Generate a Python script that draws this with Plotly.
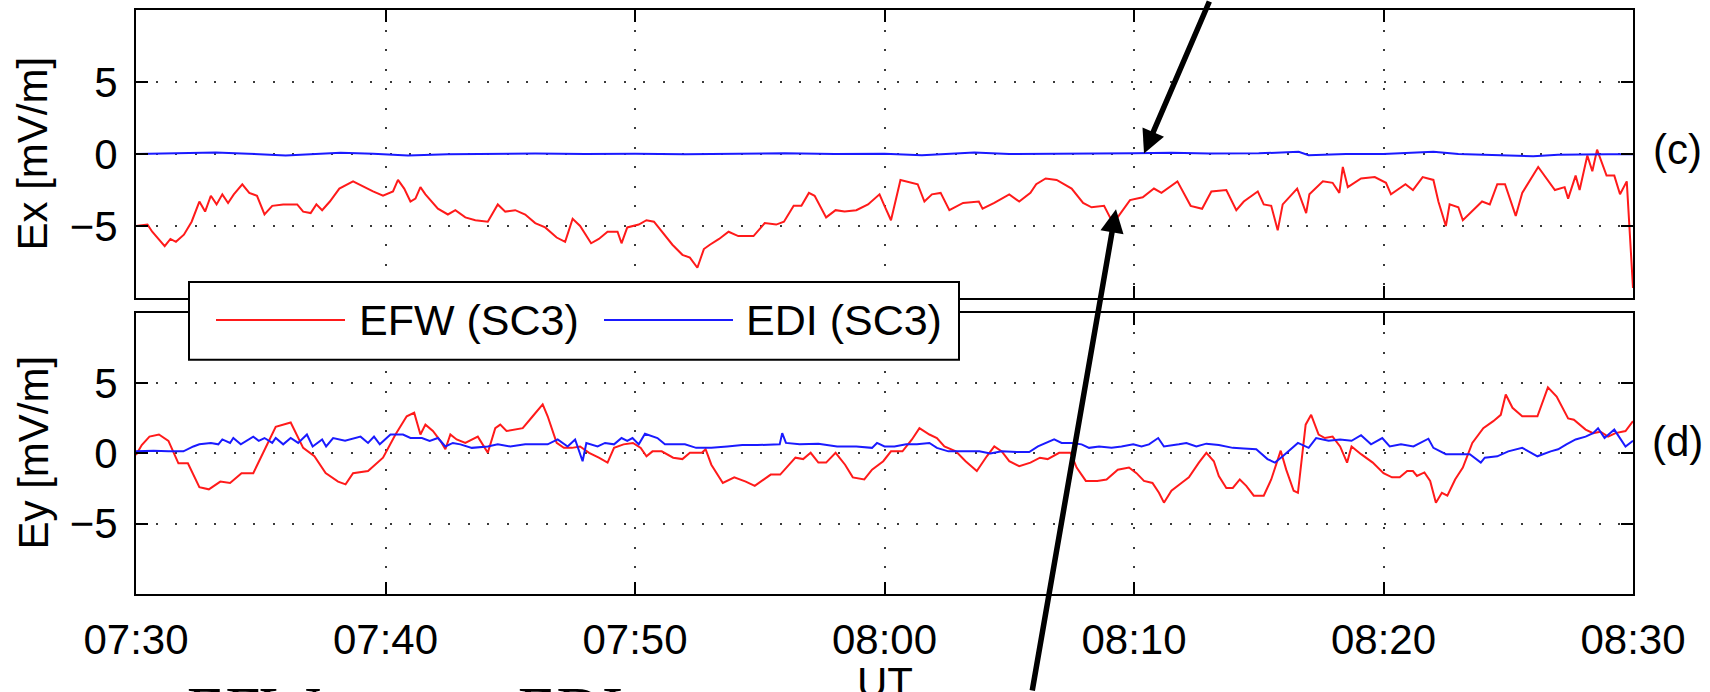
import plotly.graph_objects as go

# ---------------- data (minutes after 07:30 UT) ----------------
tick_vals = [0, 10, 20, 30, 40, 50, 60]
tick_text = ["07:30", "07:40", "07:50", "08:00", "08:10", "08:20", "08:30"]

# Panel (c): Ex, EFW (SC3)
t_ex_efw = [0, 0.46, 0.65, 0.85, 1.15, 1.38, 1.6, 1.92, 2.23, 2.54, 2.77, 3.0, 3.23, 3.46, 3.69, 3.92,
            4.26, 4.54, 4.85, 5.15, 5.46, 5.9, 6.46, 6.7, 7.0, 7.23, 7.46, 7.77, 8.15, 8.7, 9.15, 9.5,
            9.9, 10.3, 10.5, 10.75, 11.0, 11.2, 11.4, 11.6, 12.1, 12.5, 12.8, 13.2, 13.6, 14.1, 14.5,
            14.8, 15.2, 15.6, 16.0, 16.4, 16.86, 17.2, 17.5, 17.8, 18.24, 18.55, 18.9, 19.3, 19.46,
            19.69, 20.15, 20.46, 20.76, 21.07, 21.5, 21.9, 22.2, 22.5, 22.76, 23.0, 23.37, 23.75, 24.14,
            24.75, 25.2, 25.66, 25.97, 26.36, 26.67, 26.97, 27.2, 27.66, 28.04, 28.4, 28.87, 29.34,
            29.8, 30.0, 30.26, 30.64, 31.33, 31.6, 31.9, 32.25, 32.6, 33.15, 33.78, 33.93, 34.4, 35.0,
            35.4, 35.85, 36.08, 36.46, 36.9, 37.5, 37.96, 38.3, 38.8, 39.04, 39.3, 39.84, 40.35, 40.8,
            41.1, 41.74, 42.27, 42.73, 43.1, 43.7, 44.1, 44.4, 44.96, 45.2, 45.5, 45.76, 45.96, 46.54,
            46.9, 47.03, 47.57, 47.96, 48.23, 48.37, 48.57, 49.1, 49.65, 50.1, 50.3, 50.88, 51.18,
            51.57, 52.0, 52.2, 52.5, 52.65, 53.0, 53.18, 53.95, 54.26, 54.56, 54.87, 55.3, 55.56,
            56.2, 56.87, 57.26, 57.4, 57.7, 57.86, 58.17, 58.37, 58.56, 58.94, 59.25, 59.48, 59.75, 60.0]
ex_efw = [-5.0, -4.9, -5.4, -5.8, -6.4, -5.9, -6.1, -5.6, -4.7, -3.3, -4.0, -2.9, -3.5, -2.8, -3.4, -2.8,
          -2.1, -2.7, -2.9, -4.2, -3.6, -3.5, -3.5, -4.0, -4.1, -3.5, -3.9, -3.3, -2.4, -1.9, -2.3, -2.6,
          -2.9, -2.6, -1.8, -2.4, -3.3, -3.1, -2.3, -2.8, -3.8, -4.2, -3.9, -4.4, -4.6, -4.7, -3.5,
          -4.0, -3.9, -4.2, -4.8, -5.1, -5.8, -6.1, -4.5, -5.0, -6.2, -5.9, -5.4, -5.4, -6.2,
          -5.1, -4.9, -4.6, -4.7, -5.4, -6.3, -7.0, -7.2, -7.9, -6.6, -6.3, -5.9, -5.4, -5.7,
          -5.7, -4.8, -4.9, -4.7, -3.6, -3.6, -2.7, -2.9, -4.4, -3.9, -4.0, -3.9, -3.5,
          -2.8, -3.6, -4.6, -1.8, -2.1, -3.3, -2.8, -2.7, -3.9, -3.4, -3.3, -3.8, -3.4, -2.8,
          -3.3, -2.7, -2.1, -1.7, -1.8, -2.4, -3.4, -3.7, -3.6, -4.4, -4.5, -3.2, -3.0, -2.4,
          -2.7, -1.9, -3.6, -3.8, -2.6, -2.5, -3.9, -3.3, -2.6, -3.5, -3.6, -5.3, -3.5, -2.4,
          -4.1, -2.8, -1.9, -2.0, -2.7, -0.9, -2.3, -1.7, -1.6, -2.0, -2.8, -2.1, -2.5,
          -1.6, -1.8, -3.3, -5.0, -3.5, -3.7, -4.6, -3.3, -3.5, -2.1, -2.1, -4.3, -2.7,
          -0.9, -2.5, -2.3, -3.1, -1.5, -2.5, -0.1, -1.2, 0.3, -1.5, -1.5, -2.8, -1.9, -9.3]

# Panel (c): Ex, EDI (SC3)
t_ex_edi = [0, 1.5, 3.2, 4.5, 6.0, 7.2, 8.2, 9.5, 10.9, 12.5, 14.0, 16.0, 18.0, 20.0, 22.0, 24.0, 26.0,
            28.0, 30.0, 31.5, 33.6, 35.0, 36.0, 38.0, 40.0, 41.5, 43.0, 45.0, 46.6, 47.0, 48.5, 50.0,
            52.0, 53.0, 54.0, 55.0, 56.0, 57.0, 58.0, 59.0, 60.0]
ex_edi = [0.0, 0.05, 0.1, 0.02, -0.1, 0.0, 0.08, 0.02, -0.1, -0.02, 0.0, 0.03, 0.0, 0.02, -0.02, 0.03,
          0.05, 0.0, 0.02, -0.08, 0.1, 0.0, 0.0, 0.03, 0.05, 0.08, 0.03, 0.05, 0.15, -0.08, 0.0, 0.0,
          0.15, 0.0, -0.05, -0.05, -0.15, -0.05, -0.02, -0.02, -0.02]

# Panel (d): Ey, EFW (SC3)
t_ey_efw = [0, 0.23, 0.54, 0.92, 1.3, 1.7, 2.08, 2.54, 2.92, 3.15, 3.38, 3.77, 4.23, 4.7, 5.15, 5.6, 6.2,
            6.7, 7.15, 7.6, 8.1, 8.4, 8.7, 9.3, 9.9, 10.4, 10.85, 11.15, 11.4, 11.6, 11.9, 12.2, 12.4,
            12.6, 12.85, 13.2, 13.7, 14.1, 14.4, 14.6, 14.85, 15.5, 15.9, 16.3, 16.5, 16.86, 17.15,
            17.47, 17.8, 18.16, 18.55, 18.9, 19.16, 19.54, 19.92, 20.23, 20.46, 20.7, 21.07, 21.53,
            21.9, 22.2, 22.68, 22.83, 23.06, 23.52, 23.98, 24.44, 24.8, 25.05, 25.44, 25.82, 26.13,
            26.43, 26.74, 27.04, 27.35, 27.66, 28.04, 28.42, 28.73, 29.19, 29.5, 29.95, 30.26, 30.72,
            31.1, 31.4, 31.8, 32.1, 32.4, 32.86, 33.25, 33.7, 34.1, 34.4, 34.7, 35.0, 35.4, 35.85,
            36.23, 36.54, 37.0, 37.46, 37.7, 38.07, 38.53, 38.9, 39.35, 39.8, 40.1, 40.4, 40.74, 41.0,
            41.2, 41.5, 41.9, 42.2, 42.6, 42.9, 43.2, 43.4, 43.7, 43.96, 44.24, 44.5, 44.8, 45.2, 45.5,
            45.88, 46.1, 46.4, 46.57, 46.88, 47.1, 47.4, 47.65, 47.96, 48.26, 48.54, 48.72, 49.1,
            49.57, 50.0, 50.34, 50.65, 50.95, 51.18, 51.34, 51.64, 51.87, 52.1, 52.34, 52.56, 52.87,
            53.18, 53.56, 54.0, 54.4, 54.7, 54.9, 55.17, 55.56, 56.17, 56.59, 56.94, 57.4, 57.63,
            58.1, 58.4, 58.7, 59.0, 59.3, 59.7, 60.0]
ey_efw = [-0.1, 0.6, 1.2, 1.35, 0.9, -0.7, -0.7, -2.4, -2.55, -2.3, -2.0, -2.1, -1.4, -1.4, 0.3, 1.9, 2.2,
          0.4, -0.2, -1.4, -2.0, -2.2, -1.4, -1.25, -0.3, 1.35, 2.65, 2.9, 1.35, 2.05, 1.6, 0.9, 0.3,
          1.35, 1.0, 0.75, 1.2, 0.05, 1.8, 2.05, 1.6, 1.8, 2.65, 3.5, 2.65, 0.75, 0.4,
          0.4, 0.5, 0.05, -0.3, -0.65, 0.4, 0.65, 0.75, 0.4, -0.2, 0.15, 0.15, -0.3,
          -0.4, 0.05, 0.05, 0.3, -0.8, -2.1, -1.7, -2.0, -2.3, -2.0, -1.5, -1.5, -0.9,
          -0.3, -0.4, 0.05, -0.65, -0.65, 0.05, -0.8, -1.7, -1.85, -1.15, -0.55, 0.15, 0.15,
          1.0, 1.8, 1.35, 1.1, 0.5, 0.15, -0.55, -1.25, -0.2, 0.5, 0.15, -0.55, -0.9, -0.65,
          -0.3, -0.4, 0.05, 0.05, -1.0, -1.95, -1.95, -1.85, -1.15, -1.0, -1.4, -1.95, -2.1, -2.8,
          -3.5, -2.65, -2.1, -1.7, -0.65, 0.05, -0.55, -1.6, -2.45, -2.45, -1.85, -2.3, -3.0, -3.0, -1.85,
          0.2, -1.15, -2.65, -2.8, 2.05, 2.75, 1.35, 1.1, 1.2, 0.5, -0.65, 0.5, -0.05,
          -0.65, -1.4, -1.7, -1.7, -1.25, -1.25, -1.6, -1.35, -1.95, -3.5, -2.8, -3.0, -1.85,
          -1.0, 0.75, 1.8, 2.3, 2.75, 4.2, 3.25, 2.65, 2.65, 4.7, 4.05, 2.5, 2.4,
          1.7, 1.45, 1.55, 1.2, 1.45, 1.6, 2.3]

# Panel (d): Ey, EDI (SC3)
t_ey_edi = [0, 0.7, 1.3, 1.9, 2.3, 2.54, 3.0, 3.3, 3.46, 3.77, 3.9, 4.2, 4.7, 4.92, 5.15, 5.46, 5.6, 5.9,
            6.2, 6.5, 6.85, 7.08, 7.46, 7.62, 7.9, 8.38, 9.0, 9.3, 9.54, 9.77, 10.2, 10.7, 11.0, 11.46,
            11.77, 12.1, 12.4, 12.7, 13.0, 13.46, 14.1, 14.5, 15.0, 15.6, 16.0, 16.5, 16.9, 17.3, 17.6,
            17.9, 18.05, 18.5, 18.8, 19.16, 19.46, 19.69, 19.9, 20.15, 20.4, 20.7, 20.9, 21.2, 21.5,
            22.0, 22.45, 23.06, 23.7, 24.3, 24.9, 25.5, 25.8, 25.9, 26.05, 26.6, 27.35, 28.1, 28.87,
            29.5, 29.7, 30.0, 30.4, 30.87, 31.3, 31.8, 32.1, 32.56, 33.2, 33.8, 34.24, 34.7, 35.3,
            35.8, 36.15, 36.5, 36.8, 37.1, 37.5, 37.9, 38.2, 38.6, 39.1, 39.5, 39.97, 40.3, 40.6,
            40.97, 41.2, 41.8, 42.1, 42.5, 42.9, 43.4, 43.96, 44.4, 44.9, 45.35, 45.65, 45.96, 46.57,
            47.0, 47.3, 47.8, 48.26, 48.72, 49.1, 49.5, 49.95, 50.25, 50.7, 51.2, 51.8, 52.0, 52.5,
            53.0, 53.46, 53.9, 54.06, 54.56, 55.0, 55.56, 56.17, 56.7, 57.0, 57.33, 57.7, 58.1, 58.4,
            58.6, 58.86, 59.25, 59.5, 59.7, 60.0]
ey_edi = [0.15, 0.2, 0.15, 0.15, 0.5, 0.65, 0.75, 0.65, 1.0, 0.75, 1.1, 0.65, 1.2, 0.9, 1.1, 0.75, 1.1, 0.65,
          1.1, 0.75, 1.35, 0.5, 1.0, 0.5, 1.1, 0.9, 1.2, 0.75, 1.2, 0.65, 1.35, 1.35, 1.1, 1.1,
          0.9, 1.1, 0.5, 0.75, 0.65, 0.4, 0.5, 0.65, 0.5, 0.65, 0.65, 0.65, 1.0, 0.5, 1.0,
          -0.55, 0.75, 0.5, 0.75, 0.65, 1.1, 0.9, 1.1, 0.65, 1.4, 1.25, 1.1, 0.65, 0.65,
          0.65, 0.4, 0.4, 0.5, 0.6, 0.6, 0.65, 0.65, 1.45, 0.75, 0.65, 0.7, 0.5, 0.5,
          0.4, 0.75, 0.5, 0.5, 0.65, 0.65, 0.75, 0.4, 0.15, 0.15, 0.15, 0.0, 0.15, 0.1,
          0.1, 0.5, 0.75, 1.0, 0.75, 0.75, 0.65, 0.4, 0.5, 0.4, 0.5, 0.65, 0.5, 0.65,
          1.1, 0.5, 0.65, 0.75, 0.5, 0.7, 0.6, 0.4, 0.35, 0.3, -0.4, -0.65, -0.2, 0.75,
          0.4, 1.1, 0.9, 1.0, 0.9, 1.3, 0.65, 1.1, 0.5, 0.65, 0.5, 1.05, 0.4, -0.05,
          -0.05, -0.05, -0.65, -0.3, -0.2, 0.15, 0.4, -0.2, 0.15, 0.3, 0.65, 1.0, 1.2, 1.45,
          1.8, 1.1, 1.7, 1.0, 0.5, 0.9]

series_names = ["EFW (SC3)", "EDI (SC3)"]
series_colors = ["#ff1a1a", "#1a1aff"]

# ---------------- figure ----------------
W, H = 1710, 692
L, R, T, B = 136, 77, 8, 98
PW, PH = W - L - R, H - T - B


def px_x(x):
    return (x - L) / PW


def px_y(y):
    return (H - B - y) / PH


FONT = "Liberation Sans, Arial, Helvetica, sans-serif"

fig = go.Figure()
fig.add_trace(go.Scatter(x=t_ex_efw, y=ex_efw, mode="lines", xaxis="x2", yaxis="y2",
                         line=dict(color=series_colors[0], width=2), name=series_names[0], showlegend=False))
fig.add_trace(go.Scatter(x=t_ex_edi, y=ex_edi, mode="lines", xaxis="x2", yaxis="y2",
                         line=dict(color=series_colors[1], width=2), name=series_names[1], showlegend=False))
fig.add_trace(go.Scatter(x=t_ey_efw, y=ey_efw, mode="lines", xaxis="x", yaxis="y",
                         line=dict(color=series_colors[0], width=2), name=series_names[0], showlegend=False))
fig.add_trace(go.Scatter(x=t_ey_edi, y=ey_edi, mode="lines", xaxis="x", yaxis="y",
                         line=dict(color=series_colors[1], width=2), name=series_names[1], showlegend=False))

common = dict(showline=True, linecolor="black", linewidth=2, mirror="allticks",
              ticks="inside", ticklen=12, tickwidth=1.5, tickcolor="black",
              showgrid=True, gridcolor="#3a3a3a", gridwidth=1.8, griddash="2px,17.5px",
              zeroline=False, tickfont=dict(family=FONT, size=42, color="black"))

top_dom = [px_y(297), 1.0]
bot_dom = [0.0, px_y(312)]

fig.update_layout(
    width=W, height=H,
    margin=dict(l=L, r=R, t=T, b=B, pad=0),
    paper_bgcolor="white", plot_bgcolor="white",
    font=dict(family=FONT, size=42, color="black"),
    showlegend=False,
    xaxis=dict(range=[0, 60], tickvals=tick_vals, ticktext=tick_text, anchor="y",
               ticklabelstandoff=8, **common),
    yaxis=dict(range=[-10, 10], tickvals=[-5, 0, 5], domain=bot_dom, anchor="x",
               ticklabelstandoff=8, **common),
    xaxis2=dict(range=[0, 60], tickvals=tick_vals, ticktext=tick_text, anchor="y2",
                showticklabels=False, matches="x", **common),
    yaxis2=dict(range=[-10, 10], tickvals=[-5, 0, 5], domain=top_dom, anchor="x2",
                ticklabelstandoff=8, **common),
)

shapes = []
# custom legend box (overlapping both panels, as in the original)
shapes.append(dict(type="rect", xref="paper", yref="paper", layer="above",
                   x0=px_x(189), x1=px_x(959), y0=px_y(359), y1=px_y(281),
                   line=dict(color="black", width=2), fillcolor="white"))
shapes.append(dict(type="line", xref="paper", yref="paper", layer="above",
                   x0=px_x(216), x1=px_x(345), y0=px_y(319), y1=px_y(319),
                   line=dict(color=series_colors[0], width=2)))
shapes.append(dict(type="line", xref="paper", yref="paper", layer="above",
                   x0=px_x(604), x1=px_x(733), y0=px_y(319), y1=px_y(319),
                   line=dict(color=series_colors[1], width=2)))
fig.update_layout(shapes=shapes)

ann = []
ann.append(dict(text=series_names[0], xref="paper", yref="paper", x=px_x(357), y=px_y(319),
                xanchor="left", yanchor="middle", showarrow=False, font=dict(size=43)))
ann.append(dict(text=series_names[1], xref="paper", yref="paper", x=px_x(744), y=px_y(319),
                xanchor="left", yanchor="middle", showarrow=False, font=dict(size=43)))
# axis titles
ann.append(dict(text="Ex [mV/m]", xref="paper", yref="paper", x=px_x(33), y=px_y(152),
                textangle=-90, xanchor="center", yanchor="middle", showarrow=False, font=dict(size=42)))
ann.append(dict(text="Ey [mV/m]", xref="paper", yref="paper", x=px_x(33), y=px_y(452),
                textangle=-90, xanchor="center", yanchor="middle", showarrow=False, font=dict(size=42)))
# panel labels
ann.append(dict(text="(c)", xref="paper", yref="paper", x=px_x(1677), y=px_y(148),
                xanchor="center", yanchor="middle", showarrow=False, font=dict(size=42)))
ann.append(dict(text="(d)", xref="paper", yref="paper", x=px_x(1677), y=px_y(441),
                xanchor="center", yanchor="middle", showarrow=False, font=dict(size=42)))
# x-axis label
ann.append(dict(text="UT", xref="paper", yref="paper", x=0.5, y=px_y(657),
                xanchor="center", yanchor="top", showarrow=False, font=dict(size=42)))
# cut-off serif caption text at the bottom
ann.append(dict(text="EFW", xref="paper", yref="paper", x=px_x(254), y=px_y(673),
                xanchor="center", yanchor="top", showarrow=False,
                font=dict(family="Liberation Serif, Times New Roman, serif", size=63)))
ann.append(dict(text="EDI", xref="paper", yref="paper", x=px_x(570), y=px_y(673),
                xanchor="center", yanchor="top", showarrow=False,
                font=dict(family="Liberation Serif, Times New Roman, serif", size=63)))
# arrows
ann.append(dict(text="", xref="paper", yref="paper", x=px_x(1144), y=px_y(152),
                ax=66, ay=-165, showarrow=True, arrowhead=2, arrowsize=0.85, arrowwidth=5.5,
                arrowcolor="black", standoff=0))
ann.append(dict(text="", xref="paper", yref="paper", x=px_x(1116), y=px_y(208),
                ax=-84, ay=495, showarrow=True, arrowhead=2, arrowsize=0.85, arrowwidth=5.5,
                arrowcolor="black", standoff=0))
fig.update_layout(annotations=ann)

fig.write_html("out.html")
